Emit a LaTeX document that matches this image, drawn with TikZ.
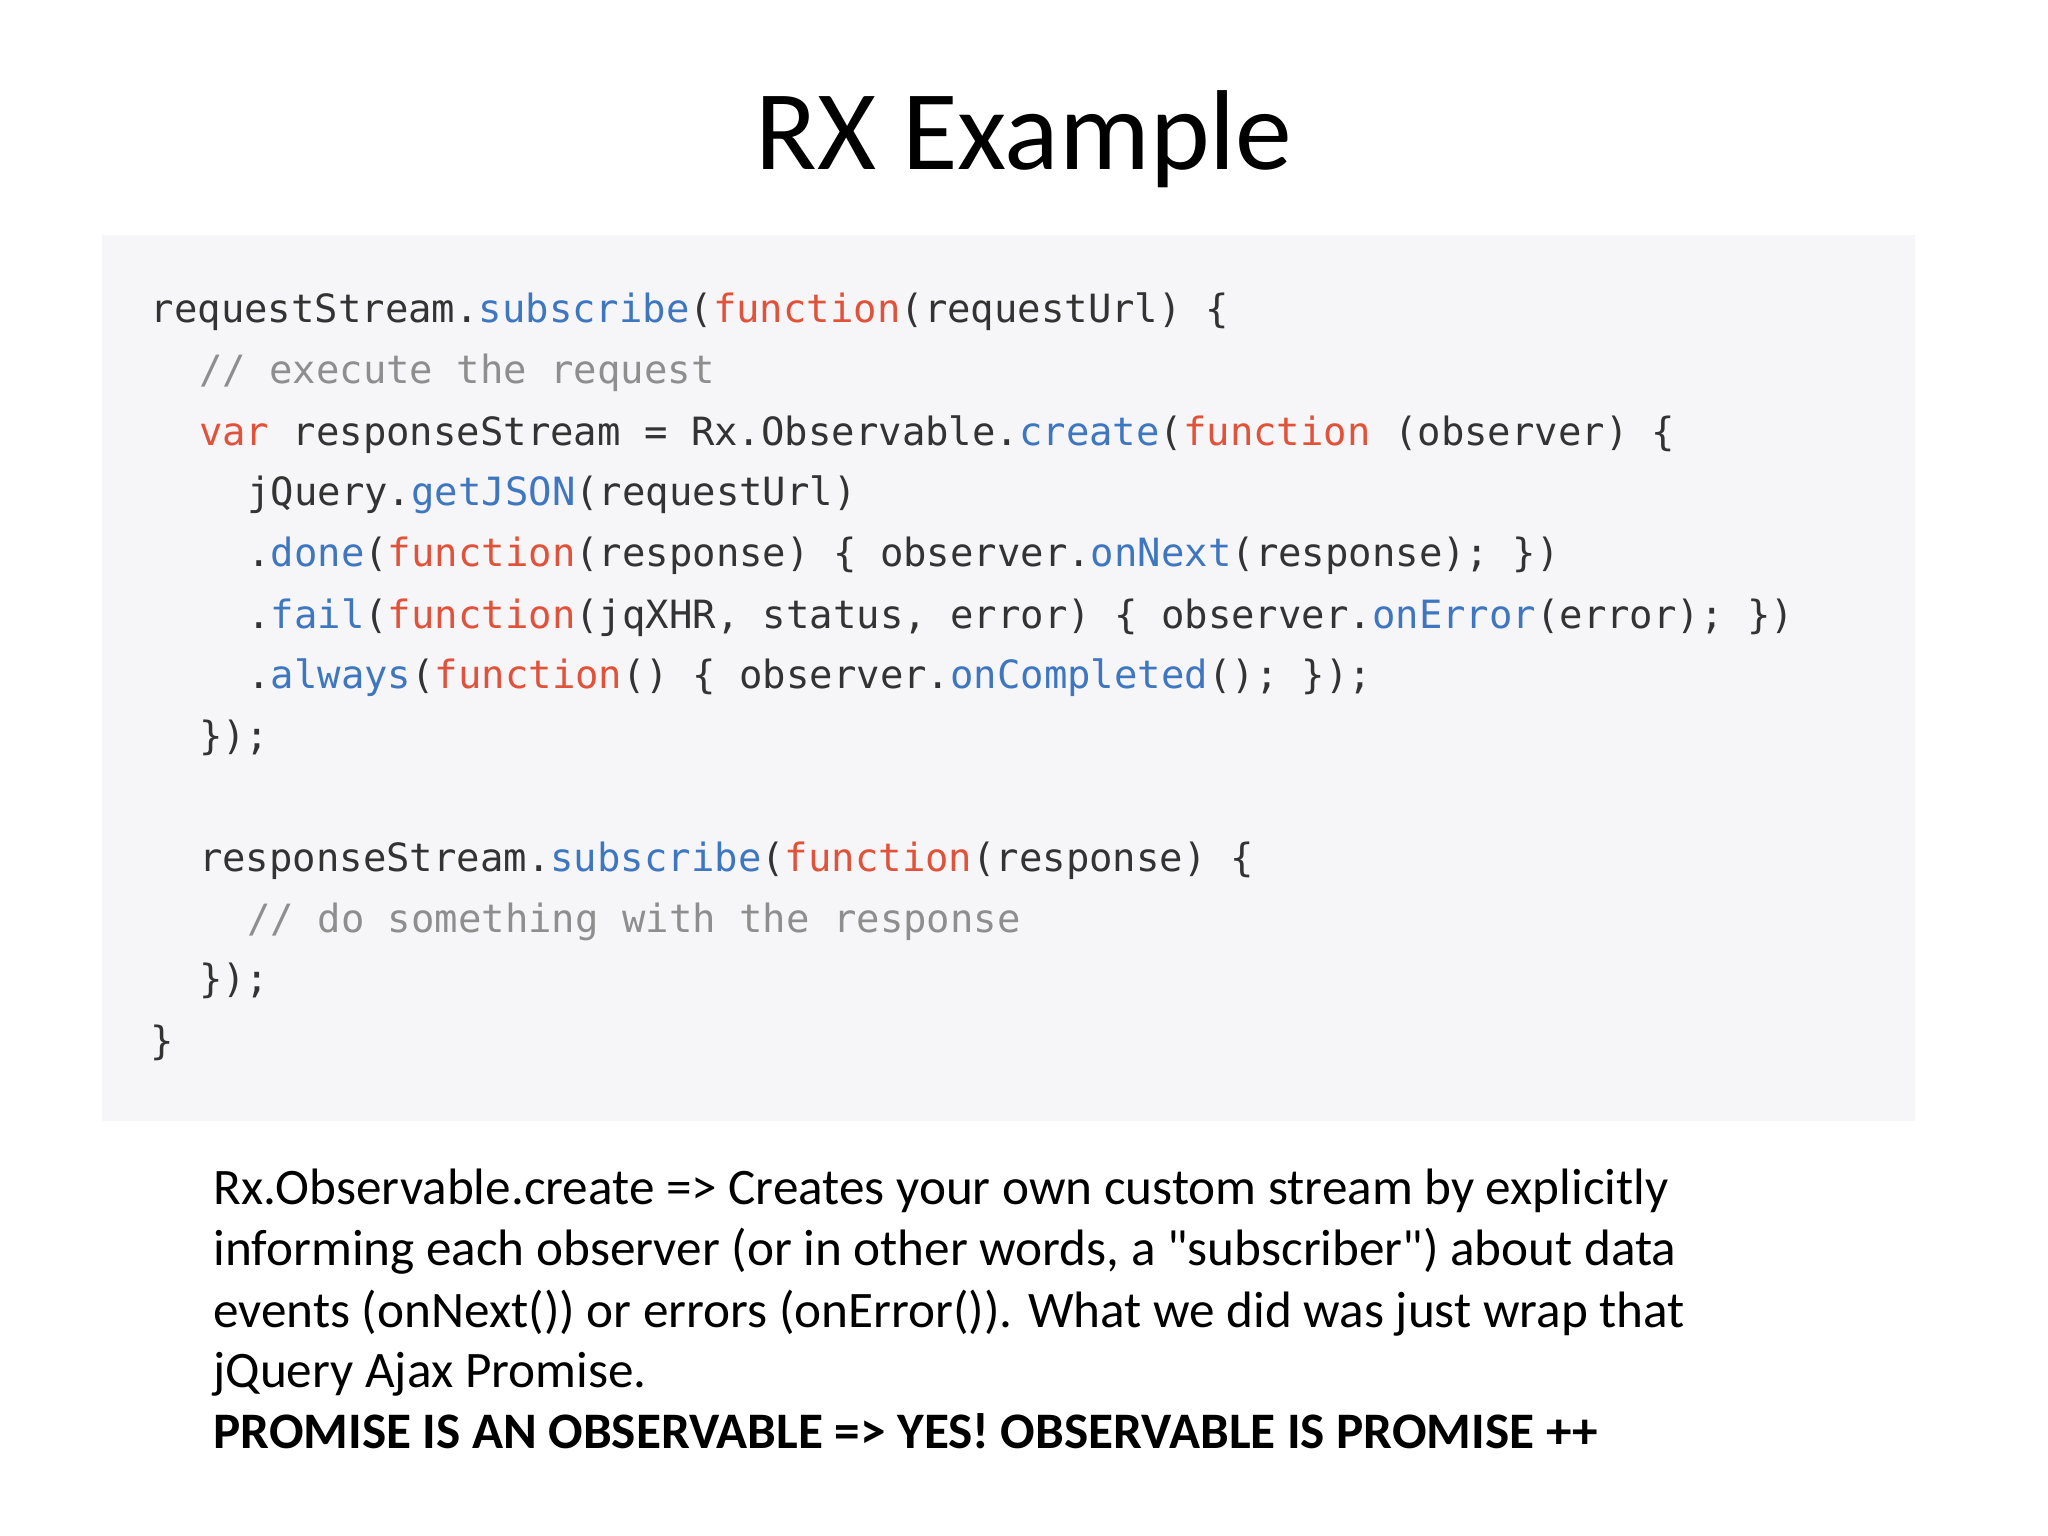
\documentclass[tikz,border=0pt]{standalone}
\usepackage{fontspec}
\setmainfont{Carlito}
\setmonofont{DejaVu Sans Mono}
\definecolor{kw}{HTML}{E0523A}
\definecolor{fn}{HTML}{3E76C0}
\definecolor{cm}{HTML}{8E8E8E}
\definecolor{tx}{HTML}{333333}
\definecolor{bg}{HTML}{F6F6F8}
\newcommand{\K}[1]{\textcolor{kw}{#1}}
\newcommand{\F}[1]{\textcolor{fn}{#1}}
\newcommand{\C}[1]{\textcolor{cm}{#1}}
\begin{document}
\begin{tikzpicture}[x=0.5pt,y=-0.5pt,
  code/.style={anchor=base west,inner sep=0,font=\ttfamily\fontsize{14.9}{16}\selectfont,text=tx},
  body/.style={anchor=base west,inner sep=0,font=\fontsize{19.6}{21}\selectfont}]
\useasboundingbox (0,0) rectangle (1568,1176);
\fill[white] (0,0) rectangle (1568,1176);
\node[anchor=base,inner sep=0,font=\fontsize{43.5}{48}\selectfont] (title) at (784,130) {RX Example};
\fill[bg] (78,180) rectangle (1466,858);
\node[code] (l1) at (115,247) {requestStream.\F{subscribe}(\K{function}(requestUrl) \{};
\node[code] (l2) at (152,294) {\C{// execute the request}};
\node[code] (l3) at (152,341) {\K{var} responseStream = Rx.Observable.\F{create}(\K{function} (observer) \{};
\node[code] (l4) at (189,387) {jQuery.\F{getJSON}(requestUrl)};
\node[code] (l5) at (189,434) {.\F{done}(\K{function}(response) \{ observer.\F{onNext}(response); \})};
\node[code] (l6) at (189,481) {.\F{fail}(\K{function}(jqXHR, status, error) \{ observer.\F{onError}(error); \})};
\node[code] (l7) at (189,527) {.\F{always}(\K{function}() \{ observer.\F{onCompleted}(); \});};
\node[code] (l8) at (152,574) {\});};
\node[code] (l9) at (152,667) {responseStream.\F{subscribe}(\K{function}(response) \{};
\node[code] (l10) at (189,714) {\C{// do something with the response}};
\node[code] (l11) at (152,760) {\});};
\node[code] (l12) at (115,807) {\}};
\node[body] (b1) at (163,922) {Rx.Observable.create => Creates your own custom stream by explicitly};
\node[body] (b2) at (163,969) {informing each observer (or in other words, a \textquotedbl subscriber\textquotedbl) about data};
\node[body] (b3) at (163,1016) {events (onNext()) or errors (onError()). What we did was just wrap that};
\node[body] (b4) at (163,1062) {jQuery Ajax Promise.};
\node[body,font=\bfseries\fontsize{19.6}{21}\selectfont] (b5) at (163,1109) {PROMISE IS AN OBSERVABLE => YES! OBSERVABLE IS PROMISE ++};
\end{tikzpicture}
\end{document}
